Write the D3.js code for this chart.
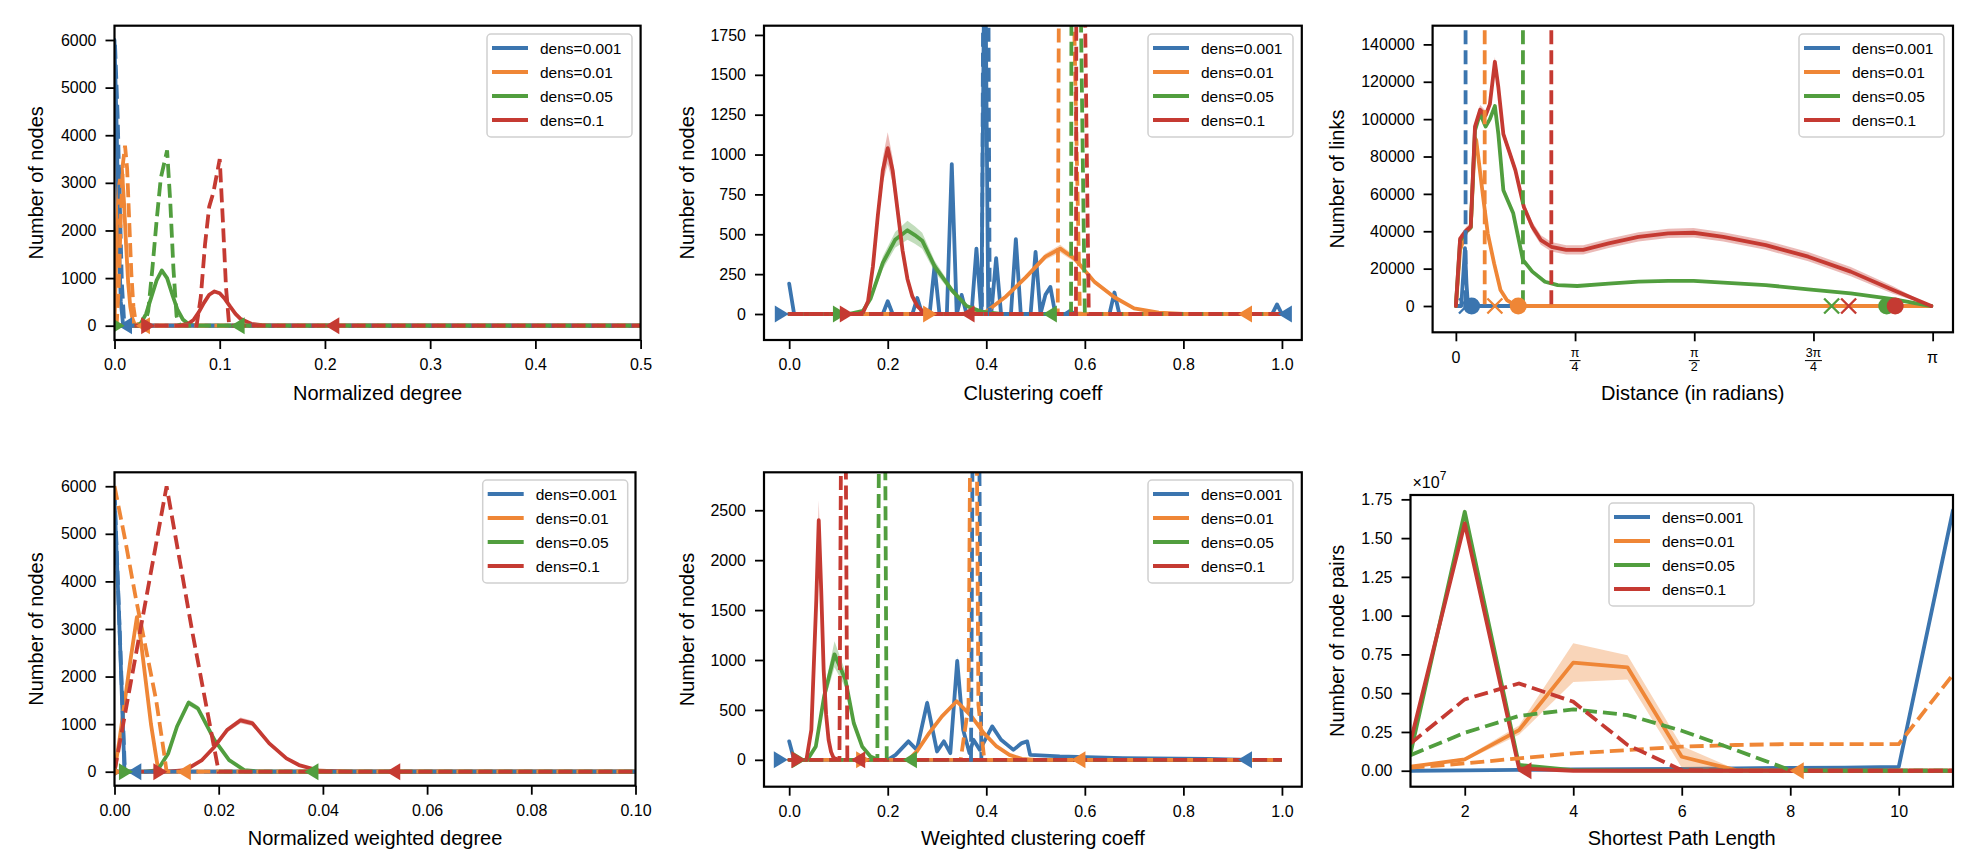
<!DOCTYPE html>
<html><head><meta charset="utf-8">
<script src="https://cdn.jsdelivr.net/npm/d3@7"></script>
<style>
body{margin:0;background:#fff;}
svg{font-family:"Liberation Sans", Arial, Helvetica, sans-serif;}
</style></head><body>
<svg id="c" width="1986" height="866"></svg>
<script>
const COLORS = ["#3b75af","#ef8636","#519e3e","#c53a32"];
const DENS_LABELS = ["dens=0.001","dens=0.01","dens=0.05","dens=0.1"];

// ---------- Panel 1: Normalized degree ----------
const deg_solid = [
 [[0,6000],[0.002,4200],[0.004,1900],[0.006,500],[0.008,60],[0.01,0],[0.5,0]],
 [[0,0],[0.002,1800],[0.004,2900],[0.007,3300],[0.009,2600],[0.011,1700],[0.013,900],[0.015,400],[0.017,150],[0.019,40],[0.022,0],[0.5,0]],
 [[0,0],[0.02,0],[0.025,50,5],[0.03,250,15],[0.035,600,25],[0.04,950,30],[0.045,1160,35],[0.05,1000,30],[0.055,650,25],[0.06,330,15],[0.065,130,10],[0.07,40,5],[0.075,10],[0.08,0],[0.5,0]],
 [[0,0],[0.06,0],[0.07,40,5],[0.075,120,10],[0.08,280,15],[0.085,480,25],[0.09,650,30],[0.095,720,35],[0.1,680,30],[0.105,560,25],[0.11,400,20],[0.115,250,15],[0.12,140,10],[0.13,40,5],[0.14,10],[0.15,0],[0.5,0]]
];
const deg_dashed = [
 [[0.0005,5900],[0.003,4400],[0.005,2600],[0.007,900],[0.009,150],[0.011,0],[0.5,0]],
 [[0,0],[0.002,0],[0.004,800],[0.006,2300],[0.008,3400],[0.01,3780],[0.012,3300],[0.014,2200],[0.016,1100],[0.018,400],[0.02,100],[0.022,0],[0.5,0]],
 [[0,0],[0.028,0],[0.032,300],[0.036,1200],[0.04,2200],[0.044,3100],[0.05,3680],[0.053,2600],[0.056,1200],[0.059,200],[0.062,0],[0.5,0]],
 [[0,0],[0.078,0],[0.082,600],[0.086,1700],[0.09,2500],[0.094,2800],[0.1,3500],[0.103,2200],[0.106,800],[0.109,0],[0.5,0]]
];
const deg_markers = [[[0,"R"],[0.01,"L"]],[[0,"R"],[0.027,"L"]],[[0.003,"R"],[0.117,"L"]],[[0.032,"R"],[0.207,"L"]]];

// ---------- Panel 2: Clustering coeff ----------
const clu_solid = [
 [[0,190],[0.01,0],[0.19,0],[0.2,80],[0.21,0],[0.25,0],[0.26,100],[0.27,0],[0.285,0],[0.295,300],[0.305,0],[0.32,0],[0.33,940],[0.34,0],[0.35,120],[0.36,0],[0.37,0],[0.38,410],[0.39,0],[0.397,2600],[0.404,0],[0.41,0],[0.42,350],[0.43,0],[0.45,0],[0.46,470],[0.47,0],[0.49,0],[0.5,390],[0.51,0],[0.52,120],[0.53,170],[0.54,0],[0.56,0],[0.57,20],[0.58,0],[0.65,0],[0.66,135],[0.67,0],[0.98,0],[0.99,60],[1.0,0]],
 [[0,0],[0.35,0],[0.4,15,5],[0.44,110,10],[0.48,230,15],[0.52,360,20],[0.55,410,25],[0.58,345,20],[0.62,200,15],[0.66,105,10],[0.7,35,5],[0.75,8],[0.8,0],[1,0]],
 [[0,0],[0.12,0],[0.15,20,5],[0.165,95,15],[0.19,320,40],[0.215,465,50],[0.24,525,60],[0.255,495,55],[0.27,460,50],[0.295,300,35],[0.33,150,20],[0.36,50,10],[0.39,15,5],[0.43,0],[1,0]],
 [[0,0],[0.14,0],[0.15,10,5],[0.16,80,15],[0.17,300,40],[0.18,620,60],[0.19,900,80],[0.2,1040,100],[0.21,900,80],[0.22,650,60],[0.23,400,45],[0.24,220,30],[0.25,110,20],[0.26,50,10],[0.27,20,5],[0.29,0],[1,0]]
];
const clu_dashed = [
 [[0,0],[0.391,0],[0.399,6000],[0.407,0],[1,0]],
 [[0,0],[0.545,0],[0.552,6000],[0.59,0],[1,0]],
 [[0,0],[0.572,0],[0.5745,6000],[0.6,0],[1,0]],
 [[0,0],[0.582,0],[0.584,6000],[0.608,0],[1,0]]
];
const clu_markers = [[[-0.015,"R"],[1.006,"L"]],[[0.286,"R"],[0.925,"L"]],[[0.103,"R"],[0.529,"L"]],[[0.117,"R"],[0.362,"L"]]];

// ---------- Panel 3: Distance (radians) ----------
const dist_solid = [
 [[0,0],[0.035,0],[0.05,18000],[0.06,31000],[0.07,12000],[0.08,0],[3.133,0]],
 [[0,0],[0.028,30000],[0.07,40000],[0.098,42000],[0.126,90000],[0.134,88800],[0.182,56700],[0.21,38900],[0.252,22800],[0.294,8600],[0.336,3200],[0.39,500],[0.45,0],[3.133,0]],
 [[0,0],[0.028,35000],[0.07,40000],[0.098,42000],[0.126,94000],[0.16,103000],[0.196,96000],[0.224,100000],[0.257,107000],[0.28,92000],[0.313,62000],[0.378,49600],[0.442,24600],[0.504,18400],[0.587,13000],[0.671,11200],[0.8,10700],[1.007,12000],[1.203,13000],[1.399,13400],[1.567,13500],[1.762,12500],[2.042,11200],[2.322,8900],[2.602,6800],[2.881,3700],[3.133,0]],
 [[0,0],[0.028,36000,2000],[0.07,40600,2000],[0.098,42400,2000],[0.126,96000,2500],[0.16,105000,2500],[0.196,102000,2500],[0.224,108000,2500],[0.257,130700,2500],[0.28,117000,2500],[0.313,92000,2500],[0.35,83000,2500],[0.392,72700,2500],[0.448,53000,2500],[0.504,42400,2500],[0.56,35300,2500],[0.629,31700,2500],[0.727,30000,2500],[0.839,30000,2500],[1.007,33500,2500],[1.203,37000,2500],[1.399,38900,2500],[1.567,39200,2500],[1.762,37000,2500],[2.042,32600,2500],[2.322,26400,2500],[2.602,18400,2500],[2.881,8600,2000],[3.133,0]]
];
const dist_vlines = [0.064, 0.19, 0.442, 0.629];
const dist_markers = [[[0.07,"x"],[0.104,"o"]],[[0.257,"x"],[0.411,"o"]],[[2.476,"x"],[2.839,"o"]],[[2.588,"x"],[2.895,"o"]]];

// ---------- Panel 4: Normalized weighted degree ----------
const wdeg_solid = [
 [[0,5750],[0.001,2900],[0.0019,50],[0.0025,0],[0.1,0]],
 [[0,0],[0.001,700],[0.002,1500],[0.003,2300],[0.0043,3250,80],[0.005,2800,60],[0.006,1900,40],[0.007,1000,20],[0.0083,100],[0.009,0],[0.1,0]],
 [[0,0],[0.006,0],[0.0083,35],[0.0103,385,20],[0.012,950,40],[0.0142,1450,60],[0.016,1330,55],[0.0192,665,30],[0.022,245,15],[0.0249,35,5],[0.028,0],[0.1,0]],
 [[0,0],[0.01,0],[0.0136,35,5],[0.0168,245,15],[0.0192,525,30],[0.0216,875,50],[0.0242,1080,60],[0.0265,1015,55],[0.0297,595,35],[0.033,280,20],[0.0354,140,10],[0.0394,21,5],[0.045,0],[0.1,0]]
];
const wdeg_dashed = [
 [[0,5900],[0.002,0],[0.1,0]],
 [[0,6000],[0.002,4900],[0.004,3700],[0.006,2600],[0.008,1500],[0.0095,400],[0.01,0],[0.1,0]],
 [[0.02,0],[0.1,0]],
 [[0,0],[0.005,3000],[0.01,6000],[0.015,2900],[0.02,0],[0.1,0]]
];
const wdeg_markers = [[[0,"R"],[0.0038,"L"]],[[0,"R"],[0.0133,"L"]],[[0.0022,"R"],[0.0378,"L"]],[[0.0088,"R"],[0.0535,"L"]]];

// ---------- Panel 5: Weighted clustering coeff ----------
const wclu_solid = [
 [[0,185],[0.01,0],[0.2,0],[0.216,50,10],[0.242,185,20],[0.259,100,15],[0.28,570,40],[0.3,84,10],[0.314,185,20],[0.327,67,10],[0.341,990,50],[0.353,302,25],[0.366,67,10],[0.374,201,20],[0.387,100,15],[0.412,335,25],[0.43,201,15],[0.455,100,10],[0.472,168,10],[0.483,185,10],[0.489,50],[0.549,34],[0.677,17],[0.848,10],[0.933,0],[0.993,0]],
 [[0,0],[0.242,0],[0.259,84,8],[0.284,268,12],[0.31,436,15],[0.34,587,20],[0.37,436,15],[0.395,268,12],[0.421,134,8],[0.447,50,5],[0.472,10],[0.5,0],[0.993,0]],
 [[0,0],[0.037,0],[0.054,134,20],[0.071,637,60],[0.092,1057,130],[0.114,805,80],[0.131,369,40],[0.148,134,15],[0.165,34,5],[0.18,0],[0.993,0]],
 [[0,0],[0.035,0],[0.045,300,40],[0.055,1600,120],[0.06,2400,200],[0.065,1700,120],[0.07,900,60],[0.075,450,30],[0.08,200,15],[0.085,80,8],[0.09,20],[0.1,0],[0.993,0]]
];
const wclu_dashed = [
 [[0,0],[0.369,0],[0.372,3000],[0.386,3000],[0.39,0],[1,0]],
 [[0,0],[0.348,0],[0.364,550],[0.367,3000],[0.381,3000],[0.384,550],[0.396,0],[1,0]],
 [[0,0],[0.179,0],[0.182,3000],[0.195,3000],[0.198,0],[1,0]],
 [[0,0],[0.102,0],[0.105,3000],[0.115,3000],[0.118,0],[1,0]]
];
const wclu_markers = [[[-0.017,"R"],[0.925,"L"]],[[0.15,"R"],[0.587,"L"]],[[0.02,"R"],[0.245,"L"]],[[0.0185,"R"],[0.14,"L"]]];

// ---------- Panel 6: Shortest path length (x1e7) ----------
const spl_solid = [
 [[1,0],[2,0.002],[3,0.005],[4,0.008],[5,0.01],[6,0.012],[7,0.015],[8,0.018],[9,0.02],[10,0.025],[11,1.68,0.02]],
 [[1,0.026,0.005],[2,0.073,0.01],[3,0.262,0.03],[4,0.697,0.125],[5,0.667,0.078],[6,0.09,0.07],[7,0.004,0.004],[8,0],[9,0],[10,0],[11,0]],
 [[1,0.11],[2,1.67],[3,0.037],[4,0.004],[5,0],[11,0]],
 [[1,0.187],[2,1.595],[3,0.015],[4,0],[11,0]]
];
const spl_dashed = [
 null,
 [[1,0.02],[2,0.047],[3,0.08],[4,0.112],[5,0.133],[6,0.155],[7,0.166],[8,0.172],[9,0.172],[10,0.172],[11,0.62]],
 [[1,0.1],[2,0.245],[3,0.353],[4,0.396],[5,0.359],[6,0.258],[7,0.133],[8,0.004],[9,0],[10,0],[11,0]],
 [[1,0.176],[2,0.46],[3,0.563],[4,0.445],[5,0.166],[6,0.004],[7,0],[11,0]]
];
const spl_markers = [[],[[8.12,"L"]],[],[[3.1,"L"]]];

const PI = Math.PI;
const panels = [
 {id:1, l:114.5, r:640.6, t:25.7, b:340, xd:[0,0.5], yd:[-300,6300],
  xticks:[0,0.1,0.2,0.3,0.4,0.5], xfmt:d3.format(".1f"), yticks:[0,1000,2000,3000,4000,5000,6000], yfmt:d3.format("d"),
  xlabel:"Normalized degree", ylabel:"Number of nodes", ylx:36, xly:400, leg:[487,34],
  solid:deg_solid, dashed:deg_dashed, markers:deg_markers},
 {id:2, l:764, r:1301.8, t:25.7, b:340, xd:[-0.0511,1.0403], yd:[-163,1808],
  xticks:[0,0.2,0.4,0.6,0.8,1.0], xfmt:d3.format(".1f"), yticks:[0,250,500,750,1000,1250,1500,1750], yfmt:d3.format("d"),
  xlabel:"Clustering coeff", ylabel:"Number of nodes", ylx:687, xly:400, leg:[1148,34],
  solid:clu_solid, dashed:clu_dashed, markers:clu_markers},
 {id:3, l:1432.6, r:1953, t:25.7, b:332.3, xd:[-0.0488*PI,1.0427*PI], yd:[-14070,150000],
  xticks:[0,PI/4,PI/2,3*PI/4,PI], xfmt:null, yticks:[0,20000,40000,60000,80000,100000,120000,140000], yfmt:d3.format("d"),
  xlabel:"Distance (in radians)", ylabel:"Number of links", ylx:1337, xly:400, leg:[1799,34],
  solid:dist_solid, dashed:null, vlines:dist_vlines, markers:dist_markers},
 {id:4, l:114.5, r:635.5, t:472.3, b:785.7, xd:[0,0.1], yd:[-294,6293],
  xticks:[0,0.02,0.04,0.06,0.08,0.1], xfmt:d3.format(".2f"), yticks:[0,1000,2000,3000,4000,5000,6000], yfmt:d3.format("d"),
  xlabel:"Normalized weighted degree", ylabel:"Number of nodes", ylx:36, xly:845, leg:[482.7,480],
  solid:wdeg_solid, dashed:wdeg_dashed, markers:wdeg_markers},
 {id:5, l:764, r:1301.8, t:472.3, b:786.7, xd:[-0.0511,1.0403], yd:[-269,2880],
  xticks:[0,0.2,0.4,0.6,0.8,1.0], xfmt:d3.format(".1f"), yticks:[0,500,1000,1500,2000,2500], yfmt:d3.format("d"),
  xlabel:"Weighted clustering coeff", ylabel:"Number of nodes", ylx:687, xly:845, leg:[1148,480],
  solid:wclu_solid, dashed:wclu_dashed, markers:wclu_markers},
 {id:6, l:1410.5, r:1953, t:495, b:786.7, xd:[1,11], yd:[-0.103,1.778],
  xticks:[2,4,6,8,10], xfmt:d3.format("d"), yticks:[0,0.25,0.5,0.75,1.0,1.25,1.5,1.75], yfmt:d3.format(".2f"),
  xlabel:"Shortest Path Length", ylabel:"Number of node pairs", ylx:1337, xly:845, leg:[1609,503],
  solid:spl_solid, dashed:spl_dashed, markers:spl_markers, offset:true}
];

const svg = d3.select("#c");
const FONT = "Liberation Sans, Arial, Helvetica, sans-serif";
const defs = svg.append("defs");
const LW = 3.8, DASH = "14,6";

function markerPath(m){
  if (m==="R") return "M7,0 L-7,-8.5 L-7,8.5 Z";
  if (m==="L") return "M-7,0 L7,-8.5 L7,8.5 Z";
  return null;
}

function drawPanel(cfg){
  const x = d3.scaleLinear().domain(cfg.xd).range([cfg.l, cfg.r]);
  const y = d3.scaleLinear().domain(cfg.yd).range([cfg.b, cfg.t]);
  const cid = "clip"+cfg.id;
  defs.append("clipPath").attr("id",cid).append("rect")
    .attr("x",cfg.l).attr("y",cfg.t).attr("width",cfg.r-cfg.l).attr("height",cfg.b-cfg.t);
  const g = svg.append("g");
  const plot = g.append("g").attr("clip-path",`url(#${cid})`);
  const line = d3.line().x(d=>x(d[0])).y(d=>y(d[1]));
  const area = d3.area().x(d=>x(d[0])).y0(d=>y(d[1]-(d[2]||0))).y1(d=>y(d[1]+(d[2]||0)));
  for (let i=0;i<4;i++){
    const s = cfg.solid[i];
    if (!s) continue;
    if (s.some(p=>p[2])) plot.append("path").datum(s).attr("d",area).attr("fill",COLORS[i]).attr("opacity",0.35);
    plot.append("path").datum(s).attr("d",line).attr("fill","none").attr("stroke",COLORS[i])
      .attr("stroke-width",LW).attr("stroke-linejoin","round").attr("stroke-linecap","round");
  }
  for (let i=0;i<4;i++){
    if (cfg.dashed && cfg.dashed[i]) {
      plot.append("path").datum(cfg.dashed[i]).attr("d",line).attr("fill","none").attr("stroke",COLORS[i])
        .attr("stroke-width",LW).attr("stroke-dasharray",DASH);
    }
    if (cfg.vlines) {
      plot.append("line").attr("x1",x(cfg.vlines[i])).attr("x2",x(cfg.vlines[i]))
        .attr("y1",y(147500)).attr("y2",y(0)).attr("stroke",COLORS[i]).attr("stroke-width",LW).attr("stroke-dasharray",DASH);
    }
  }
  for (let i=0;i<4;i++){
    (cfg.markers[i]||[]).forEach(([mx,m])=>{
      const px = x(mx), py = y(0);
      if (m==="o") plot.append("circle").attr("cx",px).attr("cy",py).attr("r",8.5).attr("fill",COLORS[i]);
      else if (m==="x") {
        const s=7.5;
        plot.append("path").attr("d",`M${px-s},${py-s}L${px+s},${py+s}M${px-s},${py+s}L${px+s},${py-s}`)
          .attr("stroke",COLORS[i]).attr("stroke-width",2.4).attr("fill","none");
      } else plot.append("path").attr("d",markerPath(m)).attr("transform",`translate(${px},${py})`).attr("fill",COLORS[i]);
    });
  }
  g.append("rect").attr("x",cfg.l).attr("y",cfg.t).attr("width",cfg.r-cfg.l).attr("height",cfg.b-cfg.t)
    .attr("fill","none").attr("stroke","#000").attr("stroke-width",2.2);
  const xa = d3.axisBottom(x).tickValues(cfg.xticks).tickSize(9).tickPadding(10);
  xa.tickFormat(cfg.xfmt ? cfg.xfmt : ()=>"");
  const gx = g.append("g").attr("transform",`translate(0,${cfg.b})`).call(xa)
    .attr("font-size",16).attr("font-family",FONT);
  gx.select(".domain").remove();
  gx.selectAll("line").attr("stroke","#000").attr("stroke-width",1.8);
  gx.selectAll("text").attr("fill","#000");
  if (!cfg.xfmt) {
    const fr = [{v:0,t:"0"},{v:PI/4,n:"π",d:"4"},{v:PI/2,n:"π",d:"2"},{v:3*PI/4,n:"3π",d:"4"},{v:PI,t:"π"}];
    fr.forEach(f=>{
      const px = x(f.v), by = cfg.b;
      if (f.t) g.append("text").attr("x",px).attr("y",by+31).attr("text-anchor","middle")
        .attr("font-size",16).attr("font-family",FONT).text(f.t);
      else {
        g.append("text").attr("x",px).attr("y",by+25).attr("text-anchor","middle").attr("font-size",12.5).attr("font-family",FONT).text(f.n);
        g.append("line").attr("x1",px-(f.n.length>1?8.5:5.5)).attr("x2",px+(f.n.length>1?8.5:5.5)).attr("y1",by+28.3).attr("y2",by+28.3).attr("stroke","#000").attr("stroke-width",1);
        g.append("text").attr("x",px).attr("y",by+39).attr("text-anchor","middle").attr("font-size",12.5).attr("font-family",FONT).text(f.d);
      }
    });
  }
  const ya = d3.axisLeft(y).tickValues(cfg.yticks).tickFormat(cfg.yfmt).tickSize(9).tickPadding(9);
  const gy = g.append("g").attr("transform",`translate(${cfg.l},0)`).call(ya)
    .attr("font-size",16).attr("font-family",FONT);
  gy.select(".domain").remove();
  gy.selectAll("line").attr("stroke","#000").attr("stroke-width",1.8);
  gy.selectAll("text").attr("fill","#000");
  g.append("text").attr("x",(cfg.l+cfg.r)/2).attr("y",cfg.xly).attr("text-anchor","middle")
    .attr("font-size",20).attr("font-family",FONT).text(cfg.xlabel);
  const cy = (cfg.t+cfg.b)/2;
  g.append("text").attr("transform",`translate(${cfg.ylx},${cy}) rotate(-90)`).attr("text-anchor","middle")
    .attr("dominant-baseline","central").attr("font-size",20).attr("font-family",FONT).text(cfg.ylabel);
  if (cfg.offset) {
    const t = g.append("text").attr("x",cfg.l+2).attr("y",cfg.t-7).attr("font-size",16).attr("font-family",FONT);
    t.append("tspan").text("×10");
    t.append("tspan").attr("dy",-8).attr("font-size",12).text("7");
  }
  const [lx,ly] = cfg.leg;
  const lg = g.append("g").attr("transform",`translate(${lx},${ly})`);
  lg.append("rect").attr("width",145).attr("height",103).attr("rx",4).attr("fill","#fff").attr("fill-opacity",0.8)
    .attr("stroke","#d0d0d0").attr("stroke-width",1.5);
  DENS_LABELS.forEach((lab,i)=>{
    const yy = 14 + i*24;
    lg.append("line").attr("x1",5).attr("x2",41).attr("y1",yy).attr("y2",yy).attr("stroke",COLORS[i]).attr("stroke-width",LW);
    lg.append("text").attr("x",53).attr("y",yy).attr("dominant-baseline","central").attr("font-size",15.5)
      .attr("font-family",FONT).text(lab);
  });
}
panels.forEach(drawPanel);
</script>
</body></html>
